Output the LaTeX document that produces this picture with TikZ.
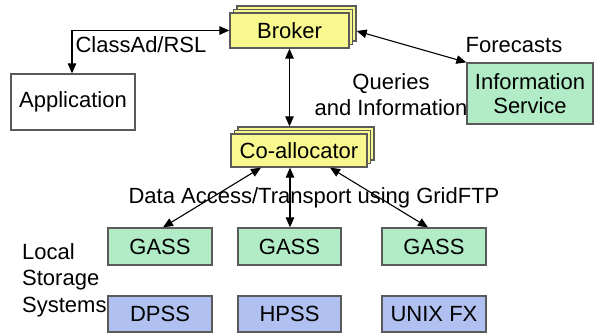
\documentclass[tikz,border=0pt]{standalone}
\usepackage{fontspec}
\setmainfont{Liberation Sans}
\usetikzlibrary{arrows.meta}
\definecolor{boxline}{HTML}{5A5A5A}
\definecolor{ylw}{HTML}{F8F88E}
\definecolor{grn}{HTML}{B2ECC6}
\definecolor{blu}{HTML}{B0C0F0}
\tikzset{
  box/.style={draw=boxline, line width=1.3pt, inner sep=0pt, font=\fontsize{22}{25}\selectfont, align=center},
  yb/.style={box, fill=ylw},
  gb/.style={box, fill=grn},
  bb/.style={box, fill=blu},
  wb/.style={box, fill=white},
  lbl/.style={font=\fontsize{22}{26.5}\selectfont, inner sep=0pt},
  link/.style={line width=1.1pt, {Triangle[length=10pt,width=8.5pt]}-{Triangle[length=10pt,width=8.5pt]}}
}
\begin{document}
\begin{tikzpicture}[x=1pt,y=-1pt]
\useasboundingbox (0,0) rectangle (594,336);

% Broker: three stacked sheets
\node[yb, minimum width=119pt, minimum height=35pt] (brk3) at (296.5,23.5) {};
\node[yb, minimum width=119pt, minimum height=35pt] (brk2) at (293,27) {};
\node[yb, minimum width=119pt, minimum height=35pt] (brk) at (289.5,30.5) {Broker};

% Co-allocator: three stacked sheets
\node[yb, minimum width=136pt, minimum height=33pt] (coa3) at (306,143.5) {};
\node[yb, minimum width=136pt, minimum height=33pt] (coa2) at (302.5,147) {};
\node[yb, minimum width=136pt, minimum height=33pt] (coa) at (299,150.5) {Co-allocator};

\node[wb, minimum width=124pt, minimum height=56pt] (app) at (73,102) {Application};
\node[gb, minimum width=126pt, minimum height=61pt] (info) at (530,93.5) {Information\\[-1pt]Service};

\node[gb, minimum width=104pt, minimum height=37pt] (g1) at (160,246.5) {GASS};
\node[gb, minimum width=103pt, minimum height=37pt] (g2) at (289.5,246.5) {GASS};
\node[gb, minimum width=104pt, minimum height=37pt] (g3) at (434,246.5) {GASS};

\node[bb, minimum width=104pt, minimum height=36pt] (s1) at (160,314) {DPSS};
\node[bb, minimum width=103pt, minimum height=36pt] (s2) at (289.5,314) {HPSS};
\node[bb, minimum width=104pt, minimum height=36pt] (s3) at (434,314) {UNIX FX};

% Labels
\node[lbl] (lcls) at (141,45) {ClassAd/RSL};
\node[lbl] (lfor) at (514,45) {Forecasts};
\node[lbl] (lque) at (391,84) {Queries};
\node[lbl] (linf) at (391,108) {and Information};
\node[lbl] (ldat) at (314,198) {Data Access/Transport using GridFTP};
\node[lbl, align=left, anchor=west] (lloc) at (22,280) {Local\\Storage\\Systems};

% Connectors
\draw[link] (brk.west) -| (app.north -| 72,0);
\draw[link] (brk.south) -- (brk.south |- coa3.north);
\draw[link] (brk3.east |- 0,31) -- (info.north west);
\draw[link] (coa.south -| 261,0) -- (g1.north -| 163,0);
\draw[link] (coa.south -| 290,0) -- (g2.north -| 290,0);
\draw[link] (coa.south -| 330,0) -- (g3.north -| 428,0);
\end{tikzpicture}
\end{document}
